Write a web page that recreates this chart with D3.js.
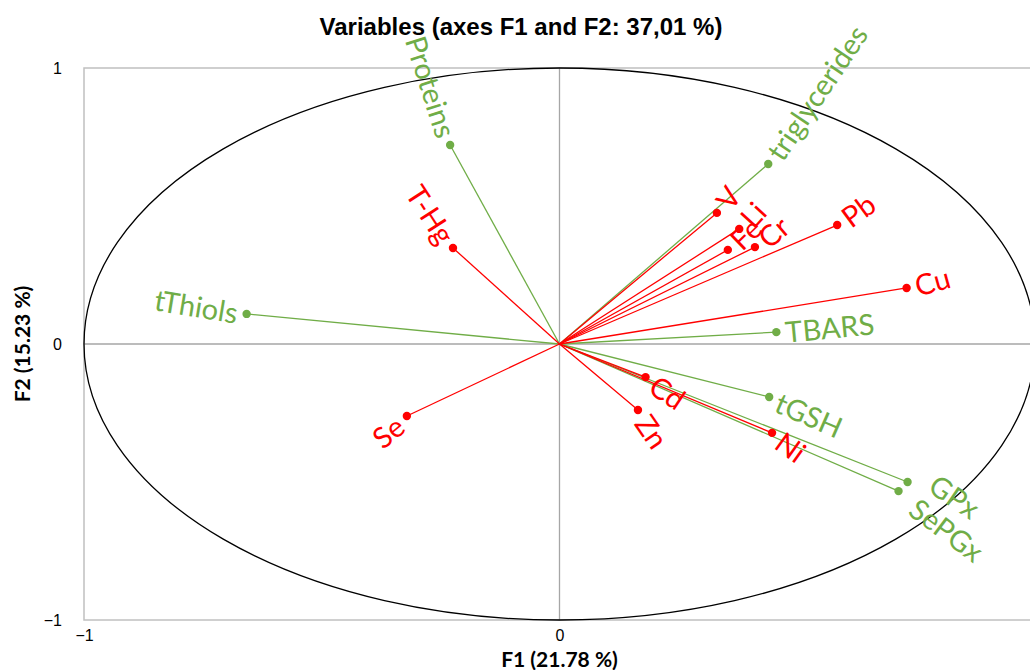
<!DOCTYPE html>
<html>
<head>
<meta charset="utf-8">
<script src="https://cdn.jsdelivr.net/npm/d3@7/dist/d3.min.js"></script>
<style>
  body { margin: 0; background: #fff; }
  .title { font-family: "Liberation Sans Narrow", "Liberation Sans", Arial, sans-serif; font-weight: bold; }
  .axisTitle { font-family: Lato, "Noto Sans", sans-serif; font-weight: bold; font-size: 21px; }
  .varLabel { font-family: Lato, "Noto Sans", sans-serif; font-size: 29px; }
</style>
</head>
<body>
<div id="chart"></div>
<script>
// variables and their coordinates on F1 / F2
var variables = ["Proteins", "triglycerides", "TBARS", "tThiols", "tGSH", "GPx", "SePGx",
                 "V", "Li", "Fe", "Cr", "Pb", "Cu", "T-Hg", "Se", "Zn", "Cd", "Ni"];
var f1 = [-0.230, 0.439, 0.456, -0.658, 0.441, 0.732, 0.713,
          0.331, 0.378, 0.354, 0.411, 0.584, 0.730, -0.224, -0.321, 0.165, 0.181, 0.447];
var f2 = [0.721, 0.652, 0.043, 0.109, -0.192, -0.500, -0.533,
          0.475, 0.417, 0.341, 0.351, 0.431, 0.203, 0.348, -0.261, -0.239, -0.120, -0.322];
var groups = ["bio", "bio", "bio", "bio", "bio", "bio", "bio",
              "metal", "metal", "metal", "metal", "metal", "metal", "metal", "metal", "metal", "metal", "metal"];
var axisTicks = [-1, 0, 1];

var colors = { bio: "#70ad47", metal: "#ff0000" };

// small label nudges where the original moved labels apart
var nudge = { GPx: [18, -6], SePGx: [8, 8] };

var width = 1030, height = 670;

var svg = d3.select("#chart")
  .append("svg")
  .attr("width", width)
  .attr("height", height);

var x = d3.scaleLinear().domain([-1, 1]).range([84, 1035]);
var y = d3.scaleLinear().domain([-1, 1]).range([620, 68]);

var data = variables.map(function(v, i) {
  return { name: v, x: f1[i], y: f2[i], group: groups[i] };
});

// title
svg.append("text")
  .attr("class", "title")
  .attr("x", 521)
  .attr("y", 35)
  .attr("text-anchor", "middle")
  .style("font-size", "24px")
  .text("Variables (axes F1 and F2: 37,01 %)");

// frame
svg.append("rect")
  .attr("x", x(-1))
  .attr("y", y(1))
  .attr("width", x(1) - x(-1))
  .attr("height", y(-1) - y(1))
  .attr("fill", "none")
  .attr("stroke", "#c0c0c0")
  .attr("stroke-width", 1.5);

// zero lines
svg.append("line")
  .attr("x1", x(-1)).attr("x2", x(1))
  .attr("y1", y(0)).attr("y2", y(0))
  .attr("stroke", "#a6a6a6").attr("stroke-width", 1.3);
svg.append("line")
  .attr("x1", x(0)).attr("x2", x(0))
  .attr("y1", y(1)).attr("y2", y(-1))
  .attr("stroke", "#a6a6a6").attr("stroke-width", 1.3);

// axes (labels only)
function styleTicks(g) {
  g.select(".domain").remove();
  g.attr("font-size", 16)
    .attr("font-family", "Liberation Sans, Arial, sans-serif");
  g.selectAll("text")
    .attr("font-size", 16)
    .attr("fill", "#000");
}

var yAxis = d3.axisLeft(y).tickValues(axisTicks).tickSize(0).tickPadding(22).tickFormat(d3.format("d"));
svg.append("g")
  .attr("transform", "translate(" + x(-1) + ",0)")
  .call(yAxis)
  .call(styleTicks);

// the "1" on F1 falls outside the picture, as in the original
var xTicks = axisTicks.filter(function(t) { return x(t) < width; });
var xAxis = d3.axisBottom(x).tickValues(xTicks).tickSize(0).tickPadding(10).tickFormat(d3.format("d"));
svg.append("g")
  .attr("transform", "translate(0," + y(-1) + ")")
  .call(xAxis)
  .call(styleTicks);

// correlation circle
svg.append("ellipse")
  .attr("cx", x(0))
  .attr("cy", y(0))
  .attr("rx", x(1) - x(0))
  .attr("ry", y(0) - y(1))
  .attr("fill", "none")
  .attr("stroke", "#000")
  .attr("stroke-width", 1.3);

// axis titles
svg.append("text")
  .attr("class", "axisTitle")
  .attr("x", x(0))
  .attr("y", 667)
  .attr("text-anchor", "middle")
  .text("F1 (21.78 %)");

svg.append("text")
  .attr("class", "axisTitle")
  .attr("transform", "translate(30," + y(0) + ") rotate(-90)")
  .attr("text-anchor", "middle")
  .text("F2 (15.23 %)");

// vectors: green first, red on top
var order = data.filter(function(d) { return d.group == "bio"; })
  .concat(data.filter(function(d) { return d.group == "metal"; }));

var vec = svg.append("g");

vec.selectAll("line")
  .data(order)
  .enter()
  .append("line")
  .attr("x1", x(0))
  .attr("y1", y(0))
  .attr("x2", function(d) { return x(d.x); })
  .attr("y2", function(d) { return y(d.y); })
  .attr("stroke", function(d) { return colors[d.group]; })
  .attr("stroke-width", 1.3);

vec.selectAll("circle")
  .data(order)
  .enter()
  .append("circle")
  .attr("cx", function(d) { return x(d.x); })
  .attr("cy", function(d) { return y(d.y); })
  .attr("r", 4.2)
  .attr("fill", function(d) { return colors[d.group]; });

// labels rotated along the vector
vec.selectAll("text")
  .data(order)
  .enter()
  .append("text")
  .attr("class", "varLabel")
  .attr("fill", function(d) { return colors[d.group]; })
  .attr("dominant-baseline", "central")
  .attr("text-anchor", function(d) { return d.x >= 0 ? "start" : "end"; })
  .attr("transform", function(d) {
    var a = Math.atan2(d.y, d.x);
    var off = 9;
    var px = x(d.x) + off * Math.cos(a);
    var py = y(d.y) - off * Math.sin(a);
    if (nudge[d.name]) {
      px += nudge[d.name][0];
      py += nudge[d.name][1];
    }
    var deg = -a * 180 / Math.PI;
    if (d.x < 0) deg += 180;
    return "translate(" + px + "," + py + ") rotate(" + deg + ")";
  })
  .text(function(d) { return d.name; });
</script>
</body>
</html>
